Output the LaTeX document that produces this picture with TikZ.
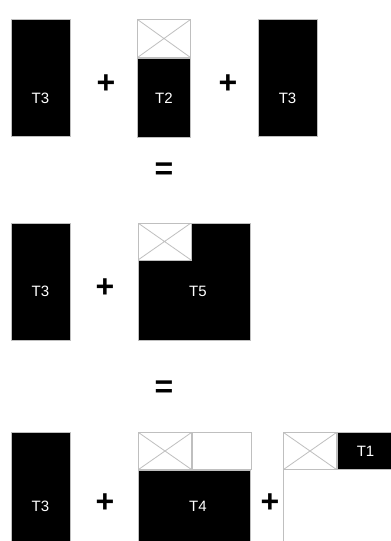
\documentclass[tikz,border=0pt]{standalone}
\usepackage{fontspec}
\setmainfont{Liberation Sans}
\usetikzlibrary{positioning}
\tikzset{
  blk/.style={draw=gray!50, fill=black, line width=1pt, inner sep=0pt,
    text=white, font=\fontsize{15}{17}\selectfont},
  col/.style={blk, minimum width=59pt, minimum height=117pt},
  xbox/.style={draw=gray!50, fill=white, line width=1pt, inner sep=0pt,
    minimum width=53pt, minimum height=37pt,
    path picture={\draw[gray!50, line width=0.8pt]
      (path picture bounding box.north west) -- (path picture bounding box.south east)
      (path picture bounding box.south west) -- (path picture bounding box.north east);}},
  openbox/.style={draw=gray!50, line width=1pt, inner sep=0pt},
  lbl/.style={text=white, inner sep=0pt, font=\fontsize{15}{17}\selectfont},
  op/.style={inner sep=0pt, font=\fontsize{32}{34}\selectfont\bfseries}
}

\begin{document}
\begin{tikzpicture}[x=1pt, y=-1pt]
  \path[use as bounding box] (0,0) rectangle (391,541);
  \clip (0,0) rectangle (391,541);

  % first line
  \node[col] (t3a) at (40.5,77.5) {};
  \node[op] (pa) at (106,84) {+};
  \node[xbox, minimum height=38pt, anchor=north west] (t2x) at (137,19) {};
  \node[blk, minimum width=53pt, minimum height=79pt, below=0pt of t2x] (t2) {T2};
  \node[lbl] (l3a) at (t3a |- t2) {T3};
  \node[op] (pb) at (228,84) {+};
  \node[col] (t3b) at (287.5,77.5) {};
  \node[lbl] (l3b) at (t3b |- t2) {T3};
  \node[op] (eqa) at (164,171) {=};

  % second line
  \node[col] (t3c) at (40.5,281.5) {};
  \node[op] (pc) at (105,288) {+};
  \node[blk, minimum width=112pt, minimum height=117pt] (t5) at (194,281.5) {};
  \node[xbox, anchor=north west] (t5x) at (t5.north west) {};
  \node[lbl] (l5) at (198,291) {T5};
  \node[lbl] (l3c) at (t3c |- l5) {T3};
  \node[op] (eqb) at (164,389) {=};

  % third line
  \node[col] (t3d) at (40.5,490.5) {};
  \node[op] (pd) at (105,503) {+};
  \node[xbox, anchor=north west] (t4x) at (138,432) {};
  \node[openbox, minimum width=59pt, minimum height=37pt, right=0pt of t4x] (t4e) {};
  \node[blk, minimum width=112pt, minimum height=85pt, anchor=north west] (t4) at (t4x.south west) {};
  \node[lbl] (l4) at (198,506) {T4};
  \node[lbl] (l3d) at (t3d |- l4) {T3};
  \node[op] (pe) at (270,503) {+};
  \node[openbox, minimum width=130pt, minimum height=140pt, anchor=north west] (m1) at (283,432) {};
  \node[xbox, anchor=north west] (t1x) at (m1.north west) {};
  \node[blk, minimum width=56pt, minimum height=37pt, right=0pt of t1x] (t1) {T1};
\end{tikzpicture}
\end{document}
